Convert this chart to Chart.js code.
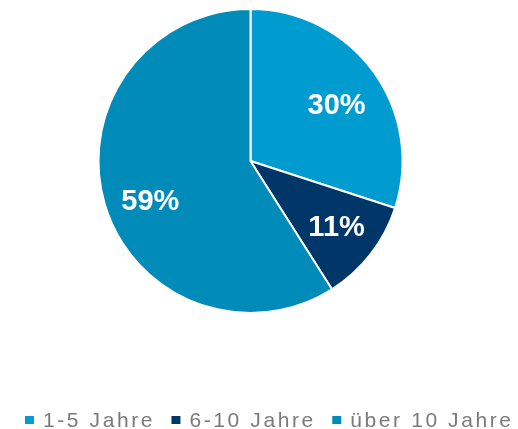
<!DOCTYPE html>
<html>
<head>
<meta charset="utf-8">
<script src="https://cdn.jsdelivr.net/npm/chart.js@4.4.0/dist/chart.umd.min.js"></script>
<style>
  html, body { margin: 0; padding: 0; background: #fff; }
  #wrap { width: 518px; height: 429px; }
</style>
</head>
<body>
<div id="wrap"><canvas id="pie"></canvas></div>
<script>
// data
const categories = ['1-5 Jahre', '6-10 Jahre', 'über 10 Jahre'];
const shares = [30, 11, 59];
const colors = ['#009CCF', '#003668', '#008BB8'];

// percentage labels inside the slices
const sliceLabels = {
  id: 'sliceLabels',
  afterDatasetsDraw(chart) {
    const ctx = chart.ctx;
    const meta = chart.getDatasetMeta(0);
    const nudge = [[0, 8], [2, 2], [2, 11]]; // small shifts like the original placement
    ctx.save();
    ctx.font = 'bold 29px "Liberation Sans", Arial, sans-serif';
    ctx.fillStyle = '#fff';
    ctx.textAlign = 'center';
    ctx.textBaseline = 'middle';
    meta.data.forEach((arc, i) => {
      const p = arc.getProps(['x', 'y', 'startAngle', 'endAngle', 'outerRadius'], true);
      const mid = (p.startAngle + p.endAngle) / 2;
      const r = p.outerRadius * 0.7;
      ctx.fillText(shares[i] + '%', p.x + Math.cos(mid) * r + nudge[i][0], p.y + Math.sin(mid) * r + nudge[i][1]);
    });
    ctx.restore();
  }
};

// legend row under the pie, spaced out like the original
const bottomLegend = {
  id: 'bottomLegend',
  afterDraw(chart) {
    const ctx = chart.ctx;
    const box = 9, gap = 9, sep = 19, spacing = 2.6;
    ctx.save();
    ctx.font = '21px "Liberation Sans", Arial, sans-serif';
    ctx.letterSpacing = spacing + 'px';
    ctx.textBaseline = 'alphabetic';
    ctx.textAlign = 'left';
    const widths = categories.map(t => ctx.measureText(t).width - spacing);
    const total = widths.reduce((a, w) => a + box + gap + w, 0) + sep * (categories.length - 1);
    let x = 268 - total / 2;
    categories.forEach((t, i) => {
      ctx.fillStyle = colors[i];
      ctx.fillRect(x, 416, box, 8);
      ctx.fillStyle = '#7a7a7a';
      ctx.fillText(t, x + box + gap, 427);
      x += box + gap + widths[i] + sep;
    });
    ctx.restore();
  }
};

const ctx = document.getElementById('pie').getContext('2d');
const pie = new Chart(ctx, {
  type: 'pie',
  data: {
    labels: categories,
    datasets: [{
      data: shares,
      backgroundColor: colors,
      borderColor: '#ffffff',
      borderWidth: 2
    }]
  },
  options: {
    responsive: true,
    maintainAspectRatio: false,
    animation: false,
    layout: { padding: { top: 8, left: 0, right: 17, bottom: 115 } },
    plugins: {
      tooltip: { enabled: false },
      legend: { display: false }
    }
  },
  plugins: [sliceLabels, bottomLegend]
});
</script>
</body>
</html>
